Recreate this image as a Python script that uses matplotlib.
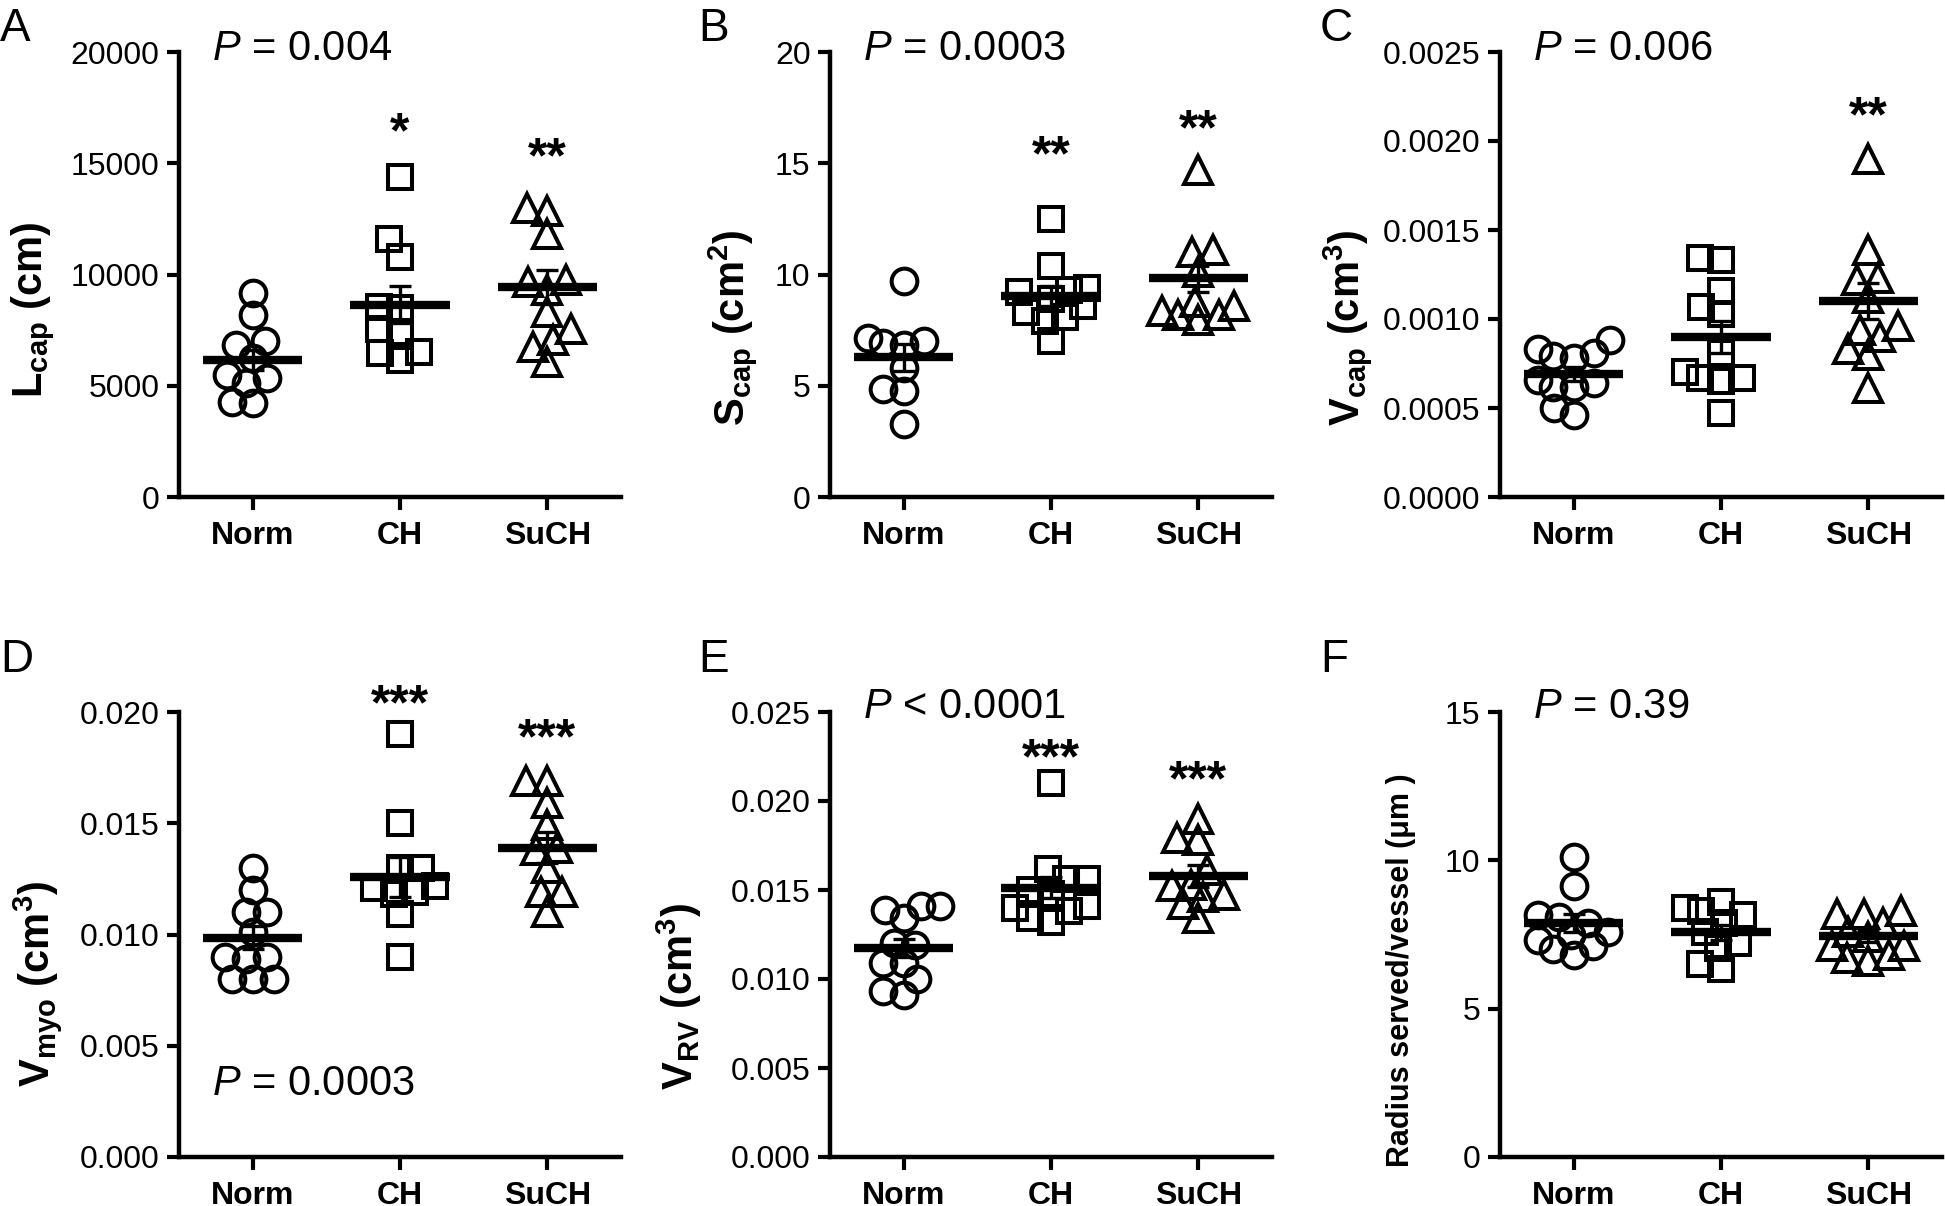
import numpy as np
import matplotlib
matplotlib.use('Agg')
import matplotlib.pyplot as plt

plt.rcParams['font.family'] = ['Liberation Sans', 'DejaVu Sans']
plt.rcParams['mathtext.fontset'] = 'custom'
plt.rcParams['mathtext.rm'] = 'Liberation Sans'
plt.rcParams['mathtext.it'] = 'Liberation Sans:italic'
plt.rcParams['mathtext.bf'] = 'Liberation Sans:bold'

groups = ['Norm', 'CH', 'SuCH']

# A - capillary length (cm)
lcap_norm = [9150, 8200, 7000, 6850, 6250, 5480, 5350, 5120, 4270, 4220]
lcap_ch = [14400, 11600, 10800, 8550, 8500, 7550, 7400, 6520, 6470, 6160]
lcap_such = [13000, 12850, 11800, 9750, 9650, 9300, 8300, 7550, 7050, 6750, 6050]
lcap_mean = [6150, 8650, 9430]
lcap_sem = [450, 850, 760]
lcap_stars = ['', '*', '**']
lcap_star_y = [0, 16950, 15830]

# B - capillary surface (cm2)
scap_norm = [9.7, 7.15, 7.0, 6.9, 6.85, 5.8, 4.85, 4.75, 3.3]
scap_ch = [12.5, 10.4, 9.4, 9.3, 9.2, 8.9, 8.6, 8.3, 8.1, 7.9, 7.0]
scap_such = [14.7, 11.1, 11.0, 10.1, 8.75, 8.6, 8.35, 8.2, 8.2, 7.95]
scap_mean = [6.27, 9.05, 9.83]
scap_sem = [0.6, 0.45, 0.6]
scap_stars = ['', '**', '**']
scap_star_y = [0, 15.95, 17.1]

# C - capillary volume (cm3)
vcap_norm = [0.00088, 0.00083, 0.00081, 0.00079, 0.00078, 0.00066, 0.00064,
             0.00062, 0.00062, 0.00050, 0.00046]
vcap_ch = [0.00134, 0.00133, 0.00116, 0.00107, 0.00103, 0.00081, 0.00070,
           0.00067, 0.00067, 0.00065, 0.00047]
vcap_such = [0.00190, 0.00139, 0.00123, 0.00122, 0.00112, 0.00096, 0.00094,
             0.00090, 0.00083, 0.00080, 0.00061]
vcap_mean = [0.00069, 0.00090, 0.00110]
vcap_sem = [0.00004, 0.00009, 0.00010]
vcap_stars = ['', '', '**']
vcap_star_y = [0, 0, 0.00221]

# D - myocardial volume (cm3)
vmyo_norm = [0.0130, 0.0120, 0.0110, 0.0110, 0.0101, 0.0090, 0.0090, 0.0089,
             0.0080, 0.0080, 0.0080]
vmyo_ch = [0.0190, 0.0150, 0.0130, 0.0130, 0.0122, 0.0121, 0.0119, 0.0118,
           0.0109, 0.0090]
vmyo_such = [0.0169, 0.0169, 0.0159, 0.0149, 0.0139, 0.0138, 0.0130, 0.0119,
             0.0119, 0.0110]
vmyo_mean = [0.00986, 0.0126, 0.0139]
vmyo_sem = [0.0005, 0.0009, 0.0007]
vmyo_stars = ['', '***', '***']
vmyo_star_y = [0, 0.0209, 0.0194]

# E - RV volume (cm3)
vrv_norm = [0.0141, 0.0139, 0.0141, 0.0134, 0.0120, 0.0119, 0.0109, 0.0109,
            0.0100, 0.0093, 0.0091]
vrv_ch = [0.0210, 0.0162, 0.0156, 0.0156, 0.0150, 0.0148, 0.0141, 0.0140,
          0.0138, 0.0134, 0.0132]
vrv_such = [0.0190, 0.0179, 0.0178, 0.0161, 0.0153, 0.0152, 0.0147, 0.0146,
            0.0142, 0.0134]
vrv_mean = [0.01176, 0.01513, 0.01579]
vrv_sem = [0.0005, 0.0006, 0.0006]
vrv_stars = ['', '***', '***']
vrv_star_y = [0, 0.0231, 0.0219]

# F - radius served per vessel (um)
radius_norm = [10.1, 9.15, 8.15, 8.1, 7.9, 7.6, 7.5, 7.3, 7.1, 7.0, 6.8]
radius_ch = [8.6, 8.4, 8.3, 8.15, 7.9, 7.6, 7.2, 7.05, 6.5, 6.35]
radius_such = [8.3, 8.2, 8.2, 7.9, 7.6, 7.4, 7.1, 7.1, 6.8, 6.7, 6.6]
radius_mean = [7.9, 7.58, 7.45]
radius_sem = [0.3, 0.25, 0.2]

markers = ['o', 's', '^']
msizes = [18.5, 17.5, 19.5]

W, H = 1945, 1206
fig = plt.figure(figsize=(W / 100, H / 100), dpi=100)

cols = [179, 830, 1500]
row_bottom = [497, 1157]
ax_w, ax_h = 442, 445


def swarm(vals, px_per_unit, d, maxoff):
    # beeswarm that lets points overlap once the swarm gets too wide
    ys = np.asarray(vals, float) * px_per_unit
    xs = np.zeros(len(ys))
    placed = []
    for i in np.argsort(ys):
        cands = [0.0]
        for j in placed:
            dy = ys[i] - ys[j]
            if abs(dy) < d:
                dx = np.sqrt(d * d - dy * dy)
                cands += [xs[j] + dx, xs[j] - dx]
        cands.sort(key=lambda c: (abs(c), c))
        best = None
        for c in cands:
            if all((c - xs[j]) ** 2 + (ys[i] - ys[j]) ** 2 >= d * d - 1e-6
                   for j in placed):
                best = c
                break
        if best is None or abs(best) > maxoff:
            # fall back: spot inside the limit with the most room
            grid = np.linspace(-maxoff, maxoff, 21)
            room = [min([(g - xs[j]) ** 2 + (ys[i] - ys[j]) ** 2
                         for j in placed] or [1e9]) for g in grid]
            best = grid[int(np.argmax(room))]
        xs[i] = best
        placed.append(i)
    return xs


panels = [
    dict(letter='A', data=[lcap_norm, lcap_ch, lcap_such], mean=lcap_mean,
         sem=lcap_sem, stars=lcap_stars, star_y=lcap_star_y,
         ymax=20000, step=5000, fmt='{:.0f}',
         ylabel=r'$\mathbf{L_{cap}}$ (cm)', ylfs=30,
         ptext=r'$\mathit{P}$ = 0.004', py=0.982, col=0, row=0,
         lx=-0.275, ly=0.42),
    dict(letter='B', data=[scap_norm, scap_ch, scap_such], mean=scap_mean,
         sem=scap_sem, stars=scap_stars, star_y=scap_star_y,
         ymax=20, step=5, fmt='{:.0f}',
         ylabel=r'$\mathbf{S_{cap}}$ (cm$\mathbf{^2}$)', ylfs=30,
         ptext=r'$\mathit{P}$ = 0.0003', py=0.982, col=1, row=0,
         lx=-0.16, ly=0.38),
    dict(letter='C', data=[vcap_norm, vcap_ch, vcap_such], mean=vcap_mean,
         sem=vcap_sem, stars=vcap_stars, star_y=vcap_star_y,
         ymax=0.0025, step=0.0005, fmt='{:.4f}',
         ylabel=r'$\mathbf{V_{cap}}$ (cm$\mathbf{^3}$)', ylfs=30,
         ptext=r'$\mathit{P}$ = 0.006', py=0.982, col=2, row=0,
         lx=-0.285, ly=0.38),
    dict(letter='D', data=[vmyo_norm, vmyo_ch, vmyo_such], mean=vmyo_mean,
         sem=vmyo_sem, stars=vmyo_stars, star_y=vmyo_star_y,
         ymax=0.020, step=0.005, fmt='{:.3f}',
         ylabel=r'$\mathbf{V_{myo}}$ (cm$\mathbf{^3}$)', ylfs=30,
         ptext=r'$\mathit{P}$ = 0.0003', py=0.14, col=0, row=1,
         lx=-0.26, ly=0.39),
    dict(letter='E', data=[vrv_norm, vrv_ch, vrv_such], mean=vrv_mean,
         sem=vrv_sem, stars=vrv_stars, star_y=vrv_star_y,
         ymax=0.025, step=0.005, fmt='{:.3f}',
         ylabel=r'$\mathbf{V_{RV}}$ (cm$\mathbf{^3}$)', ylfs=30,
         ptext=r'$\mathit{P}$ < 0.0001', py=0.987, col=1, row=1,
         lx=-0.285, ly=0.36),
    dict(letter='F', data=[radius_norm, radius_ch, radius_such],
         mean=radius_mean, sem=radius_sem, stars=['', '', ''],
         star_y=[0, 0, 0], ymax=15, step=5, fmt='{:.0f}',
         ylabel='Radius served/vessel (\u03bcm )', ylfs=22,
         ptext=r'$\mathit{P}$ = 0.39', py=0.987, col=2, row=1,
         lx=-0.19, ly=0.42),
]

letter_x = [0, 698, 1320]
letter_top = [7, 638]

for p in panels:
    left = cols[p['col']]
    bottom = row_bottom[p['row']]
    ax = fig.add_axes([left / W, 1 - bottom / H, ax_w / W, ax_h / H])
    ymax = p['ymax']
    px_per_unit = ax_h / ymax
    for i, vals in enumerate(p['data']):
        off = swarm(vals, px_per_unit, 21.0, 36.0) / 147.0
        ax.plot(i + off, vals, linestyle='none', marker=markers[i],
                ms=msizes[i], mfc='none', mec='black', mew=2.9,
                clip_on=False, zorder=3)
        ax.hlines(p['mean'][i], i - 0.337, i + 0.337, colors='black',
                  linewidth=6, zorder=4)
        ax.errorbar(i, p['mean'][i], yerr=p['sem'][i], fmt='none',
                    ecolor='black', elinewidth=2.4, capsize=8, capthick=2.4,
                    zorder=4)
        if p['stars'][i]:
            ax.annotate(p['stars'][i], xy=(i, p['star_y'][i]),
                        xytext=(0, -20), textcoords='offset points',
                        ha='center', va='baseline', fontsize=36,
                        fontweight='bold', annotation_clip=False)

    ax.set_xlim(-0.5, 2.5)
    ax.set_ylim(0, ymax)
    ticks = np.arange(0, ymax + p['step'] / 2, p['step'])
    ax.set_yticks(ticks)
    ax.set_yticklabels([p['fmt'].format(t) for t in ticks])
    ax.set_xticks(range(3))
    ax.set_xticklabels(groups, fontweight='bold')
    for s in ['top', 'right']:
        ax.spines[s].set_visible(False)
    for s in ['left', 'bottom']:
        ax.spines[s].set_linewidth(3.2)
    ax.tick_params(axis='both', direction='out', length=9, width=3,
                   labelsize=23)
    ax.tick_params(axis='y', pad=5)
    ax.tick_params(axis='x', pad=8)
    ax.set_ylabel(p['ylabel'], fontsize=p['ylfs'], fontweight='bold')
    ax.yaxis.set_label_coords(p['lx'], p['ly'])

    ax.text(0.075, p['py'], p['ptext'], transform=ax.transAxes,
            fontsize=30, ha='left', va='baseline')

    fig.text(letter_x[p['col']] / W, 1 - letter_top[p['row']] / H,
             p['letter'], fontsize=33, ha='left', va='top')

fig.savefig('out.png', dpi=100)
